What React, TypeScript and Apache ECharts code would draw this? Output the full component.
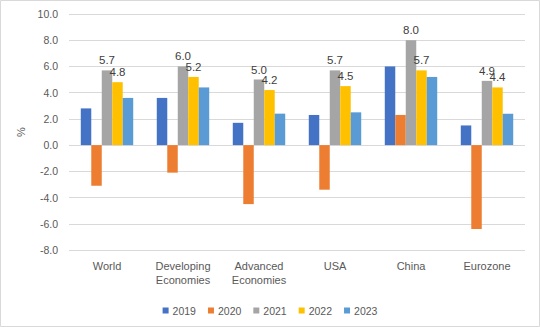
import React, { useEffect, useRef } from "react";
import * as echarts from "echarts";

const categories = ["World", "Developing\nEconomies", "Advanced\nEconomies", "USA", "China", "Eurozone"];
const seriesNames = ["2019", "2020", "2021", "2022", "2023"];
const values2019 = [2.8, 3.6, 1.7, 2.3, 6.0, 1.5];
const values2020 = [-3.1, -2.1, -4.5, -3.4, 2.3, -6.4];
const values2021 = [5.7, 6.0, 5.0, 5.7, 8.0, 4.9];
const values2022 = [4.8, 5.2, 4.2, 4.5, 5.7, 4.4];
const values2023 = [3.6, 4.4, 2.4, 2.5, 5.2, 2.4];
const colors = ["#4472C4", "#ED7D31", "#A5A5A5", "#FFC000", "#5B9BD5"];
const labeled = [false, false, true, true, false];

export default function App() {
  const ref = useRef<HTMLDivElement>(null);
  useEffect(() => {
    document.body.style.margin = "0";
    const chart = echarts.init(ref.current!, null, { renderer: "svg" });
    const data = [values2019, values2020, values2021, values2022, values2023];
    const font = "'Liberation Sans', Arial, sans-serif";
    chart.setOption({
      animation: false,
      textStyle: { fontFamily: font },
      graphic: [
        {
          type: "rect",
          shape: { x: 0.5, y: 0.5, width: 539, height: 326 },
          style: { fill: "none", stroke: "#d9d9d9", lineWidth: 1 },
          silent: true,
        },
      ],
      grid: { left: 69, right: 15, top: 14, bottom: 77, containLabel: false },
      legend: {
        data: seriesNames,
        top: 300,
        left: "center",
        itemWidth: 6,
        itemHeight: 6,
        itemGap: 12,
        icon: "rect",
        textStyle: { fontSize: 10.5, color: "#595959", fontFamily: font, padding: [0, 0, 0, -1] },
      },
      xAxis: {
        type: "category",
        data: categories,
        axisLine: { show: false },
        axisTick: { show: false },
        axisLabel: { fontSize: 11, color: "#595959", margin: 9, lineHeight: 14, interval: 0, fontFamily: font },
      },
      yAxis: {
        type: "value",
        min: -8,
        max: 10,
        interval: 2,
        name: "%",
        nameLocation: "middle",
        nameGap: 35,
        nameRotate: 90,
        nameTextStyle: { fontSize: 11, color: "#595959", fontFamily: font },
        axisLine: { show: false },
        axisTick: { show: false },
        splitLine: { lineStyle: { color: "#d9d9d9", width: 1 } },
        axisLabel: {
          fontSize: 10.5,
          color: "#595959",
          margin: 11,
          fontFamily: font,
          formatter: (v: number) => v.toFixed(1),
        },
      },
      series: seriesNames.map((name, i) => ({
        name,
        type: "bar",
        data: data[i],
        barGap: "0%",
        barCategoryGap: "31%",
        itemStyle: { color: colors[i] },
        label: {
          show: labeled[i],
          position: "top",
          distance: 4,
          fontSize: 11.5,
          color: "#404040",
          fontFamily: font,
          formatter: (p: any) => Number(p.value).toFixed(1),
        },
      })),
    });
    return () => chart.dispose();
  }, []);
  return <div ref={ref} style={{ width: 540, height: 327 }} />;
}
